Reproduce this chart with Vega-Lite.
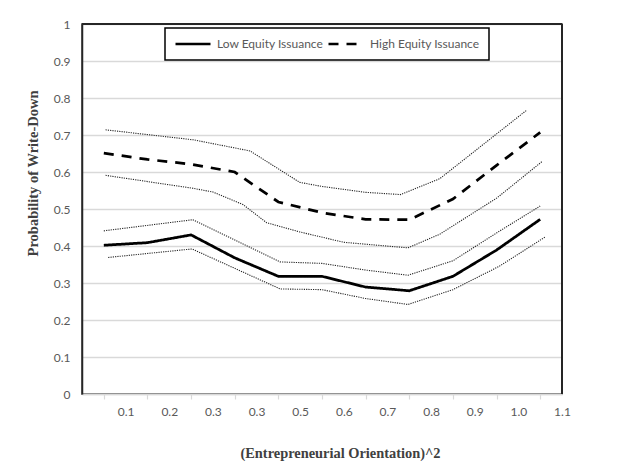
{
  "$schema": "https://vega.github.io/schema/vega-lite/v6.json",
  "autosize": "none",
  "padding": {"left": 82, "top": 24, "right": 69, "bottom": 73},
  "width": 480,
  "height": 370,
  "background": "white",
  "config": {
    "view": {"stroke": "#262626", "strokeWidth": 1.5},
    "font": "Lato",
    "axisX": {
      "orient": "bottom",
      "title": "(Entrepreneurial Orientation)^2",
      "values": [-0.05, 0.05, 0.15, 0.25, 0.35, 0.45, 0.55, 0.65, 0.75, 0.85, 0.95, 1.05],
      "labelExpr": "datum.value > 1 ? '' : format(datum.value + 0.05, '.1f')",
      "labelOffset": 21.8,
      "labelFlush": false,
      "labelOverlap": false,
      "labelBound": false,
      "grid": false,
      "domainColor": "#d9d9d9",
      "domainWidth": 1.6,
      "tickColor": "#d9d9d9",
      "tickWidth": 1.2,
      "tickSize": 5,
      "labelPadding": 7,
      "labelFont": "Lato",
      "labelFontSize": 12,
      "labelColor": "#595959",
      "titleFont": "Liberation Serif",
      "titleFontSize": 14.4,
      "titleFontWeight": "bold",
      "titleColor": "#404040",
      "titleX": 258,
      "titleY": 59,
      "titleAlign": "center",
      "titleBaseline": "middle"
    },
    "axisY": {
      "orient": "left",
      "values": [0, 0.1, 0.2, 0.3, 0.4, 0.5, 0.6, 0.7, 0.8, 0.9, 1],
      "format": "~g",
      "domain": true,
      "domainColor": "#262626",
      "domainWidth": 1.5,
      "ticks": false,
      "labelPadding": 12,
      "labelFont": "Lato",
      "labelFontSize": 12,
      "labelColor": "#595959",
      "grid": true,
      "gridColor": "#d9d9d9",
      "gridWidth": 1.3,
      "titleFont": "Liberation Serif",
      "titleFontSize": 14.5,
      "titleFontWeight": "bold",
      "titleColor": "#404040",
      "titleX": -49,
      "titleY": 149,
      "titleAlign": "center",
      "titleBaseline": "middle",
      "titleAngle": -90
    }
  },
  "data": {
    "values": [
      {"series": "Low Equity Issuance", "kind": "est", "x": 0.0, "p": 0.402},
      {"series": "Low Equity Issuance", "kind": "est", "x": 0.1, "p": 0.409},
      {"series": "Low Equity Issuance", "kind": "est", "x": 0.2, "p": 0.430},
      {"series": "Low Equity Issuance", "kind": "est", "x": 0.3, "p": 0.368},
      {"series": "Low Equity Issuance", "kind": "est", "x": 0.4, "p": 0.318},
      {"series": "Low Equity Issuance", "kind": "est", "x": 0.5, "p": 0.318},
      {"series": "Low Equity Issuance", "kind": "est", "x": 0.6, "p": 0.289},
      {"series": "Low Equity Issuance", "kind": "est", "x": 0.7, "p": 0.279},
      {"series": "Low Equity Issuance", "kind": "est", "x": 0.8, "p": 0.318},
      {"series": "Low Equity Issuance", "kind": "est", "x": 0.9, "p": 0.389},
      {"series": "Low Equity Issuance", "kind": "est", "x": 1.0, "p": 0.472},
      {"series": "High Equity Issuance", "kind": "est", "x": 0.0, "p": 0.651},
      {"series": "High Equity Issuance", "kind": "est", "x": 0.1, "p": 0.634},
      {"series": "High Equity Issuance", "kind": "est", "x": 0.2, "p": 0.621},
      {"series": "High Equity Issuance", "kind": "est", "x": 0.3, "p": 0.600},
      {"series": "High Equity Issuance", "kind": "est", "x": 0.4, "p": 0.519},
      {"series": "High Equity Issuance", "kind": "est", "x": 0.5, "p": 0.490},
      {"series": "High Equity Issuance", "kind": "est", "x": 0.6, "p": 0.472},
      {"series": "High Equity Issuance", "kind": "est", "x": 0.7, "p": 0.471},
      {"series": "High Equity Issuance", "kind": "est", "x": 0.8, "p": 0.527},
      {"series": "High Equity Issuance", "kind": "est", "x": 0.9, "p": 0.618},
      {"series": "High Equity Issuance", "kind": "est", "x": 1.0, "p": 0.707},
      {"series": "High upper", "kind": "ci", "x": 0.004, "p": 0.714},
      {"series": "High upper", "kind": "ci", "x": 0.205, "p": 0.687},
      {"series": "High upper", "kind": "ci", "x": 0.335, "p": 0.657},
      {"series": "High upper", "kind": "ci", "x": 0.449, "p": 0.572},
      {"series": "High upper", "kind": "ci", "x": 0.5, "p": 0.561},
      {"series": "High upper", "kind": "ci", "x": 0.6, "p": 0.545},
      {"series": "High upper", "kind": "ci", "x": 0.68, "p": 0.539},
      {"series": "High upper", "kind": "ci", "x": 0.77, "p": 0.582},
      {"series": "High upper", "kind": "ci", "x": 0.969, "p": 0.767},
      {"series": "High lower", "kind": "ci", "x": 0.004, "p": 0.591},
      {"series": "High lower", "kind": "ci", "x": 0.204, "p": 0.556},
      {"series": "High lower", "kind": "ci", "x": 0.25, "p": 0.546},
      {"series": "High lower", "kind": "ci", "x": 0.319, "p": 0.512},
      {"series": "High lower", "kind": "ci", "x": 0.373, "p": 0.463},
      {"series": "High lower", "kind": "ci", "x": 0.449, "p": 0.438},
      {"series": "High lower", "kind": "ci", "x": 0.55, "p": 0.41},
      {"series": "High lower", "kind": "ci", "x": 0.598, "p": 0.405},
      {"series": "High lower", "kind": "ci", "x": 0.697, "p": 0.395},
      {"series": "High lower", "kind": "ci", "x": 0.77, "p": 0.432},
      {"series": "High lower", "kind": "ci", "x": 0.901, "p": 0.53},
      {"series": "High lower", "kind": "ci", "x": 1.004, "p": 0.628},
      {"series": "Low upper", "kind": "ci", "x": 0.0, "p": 0.441},
      {"series": "Low upper", "kind": "ci", "x": 0.204, "p": 0.471},
      {"series": "Low upper", "kind": "ci", "x": 0.404, "p": 0.357},
      {"series": "Low upper", "kind": "ci", "x": 0.5, "p": 0.353},
      {"series": "Low upper", "kind": "ci", "x": 0.6, "p": 0.335},
      {"series": "Low upper", "kind": "ci", "x": 0.697, "p": 0.321},
      {"series": "Low upper", "kind": "ci", "x": 0.8, "p": 0.36},
      {"series": "Low upper", "kind": "ci", "x": 0.901, "p": 0.436},
      {"series": "Low upper", "kind": "ci", "x": 1.0, "p": 0.508},
      {"series": "Low lower", "kind": "ci", "x": 0.01, "p": 0.369},
      {"series": "Low lower", "kind": "ci", "x": 0.202, "p": 0.392},
      {"series": "Low lower", "kind": "ci", "x": 0.404, "p": 0.284},
      {"series": "Low lower", "kind": "ci", "x": 0.5, "p": 0.282},
      {"series": "Low lower", "kind": "ci", "x": 0.6, "p": 0.258},
      {"series": "Low lower", "kind": "ci", "x": 0.697, "p": 0.242},
      {"series": "Low lower", "kind": "ci", "x": 0.8, "p": 0.282},
      {"series": "Low lower", "kind": "ci", "x": 0.906, "p": 0.345},
      {"series": "Low lower", "kind": "ci", "x": 1.011, "p": 0.424}
    ]
  },
  "layer": [
    {
      "transform": [{"filter": "datum.kind == 'ci'"}],
      "mark": {"type": "line", "color": "#262626", "strokeWidth": 1.1, "strokeDash": [1.2, 1.1], "strokeCap": "butt"},
      "encoding": {
        "x": {
          "field": "x",
          "type": "quantitative",
          "title": "(Entrepreneurial Orientation)^2",
          "scale": {"domain": [-0.05, 1.05], "nice": false, "zero": false}
        },
        "y": {
          "field": "p",
          "type": "quantitative",
          "title": "Probability of Write-Down",
          "scale": {"domain": [0, 1], "nice": false}
        },
        "detail": {"field": "series", "type": "nominal"}
      }
    },
    {
      "transform": [{"filter": "datum.kind == 'est'"}],
      "mark": {"type": "line", "color": "black", "strokeWidth": 2.75, "strokeCap": "butt", "strokeJoin": "miter"},
      "encoding": {
        "x": {"field": "x", "type": "quantitative", "title": "(Entrepreneurial Orientation)^2"},
        "y": {"field": "p", "type": "quantitative", "title": "Probability of Write-Down"},
        "strokeDash": {
          "field": "series",
          "type": "nominal",
          "scale": {"domain": ["Low Equity Issuance", "High Equity Issuance"], "range": [[1, 0], [10, 8]]},
          "legend": {
            "title": null,
            "orient": "none",
            "legendX": 83,
            "legendY": 4,
            "direction": "horizontal",
            "padding": 9,
            "clipHeight": 14,
            "strokeColor": "#000000",
            "symbolType": "stroke",
            "symbolSize": 1225,
            "symbolStrokeWidth": 2.6,
            "symbolStrokeColor": "black",
            "labelFont": "Lato",
            "labelFontSize": 12,
            "labelColor": "#595959",
            "labelOffset": 5,
            "columnPadding": 3,
            "encode": {"legend": {"update": {"strokeWidth": {"value": 1.5}}}}
          }
        }
      }
    },
    {
      "mark": {"type": "rule", "color": "#262626", "strokeWidth": 1.5, "zindex": 2},
      "encoding": {
        "x": {"datum": 1.05, "type": "quantitative", "title": "(Entrepreneurial Orientation)^2"},
        "y": {"datum": 0, "type": "quantitative", "title": "Probability of Write-Down"},
        "y2": {"datum": 1}
      }
    },
    {
      "mark": {"type": "rule", "color": "#262626", "strokeWidth": 1.8, "zindex": 2},
      "encoding": {
        "x": {"datum": -0.05, "type": "quantitative", "title": "(Entrepreneurial Orientation)^2"},
        "x2": {"datum": 1.05},
        "y": {"datum": 1, "type": "quantitative", "title": "Probability of Write-Down"}
      }
    }
  ]
}
